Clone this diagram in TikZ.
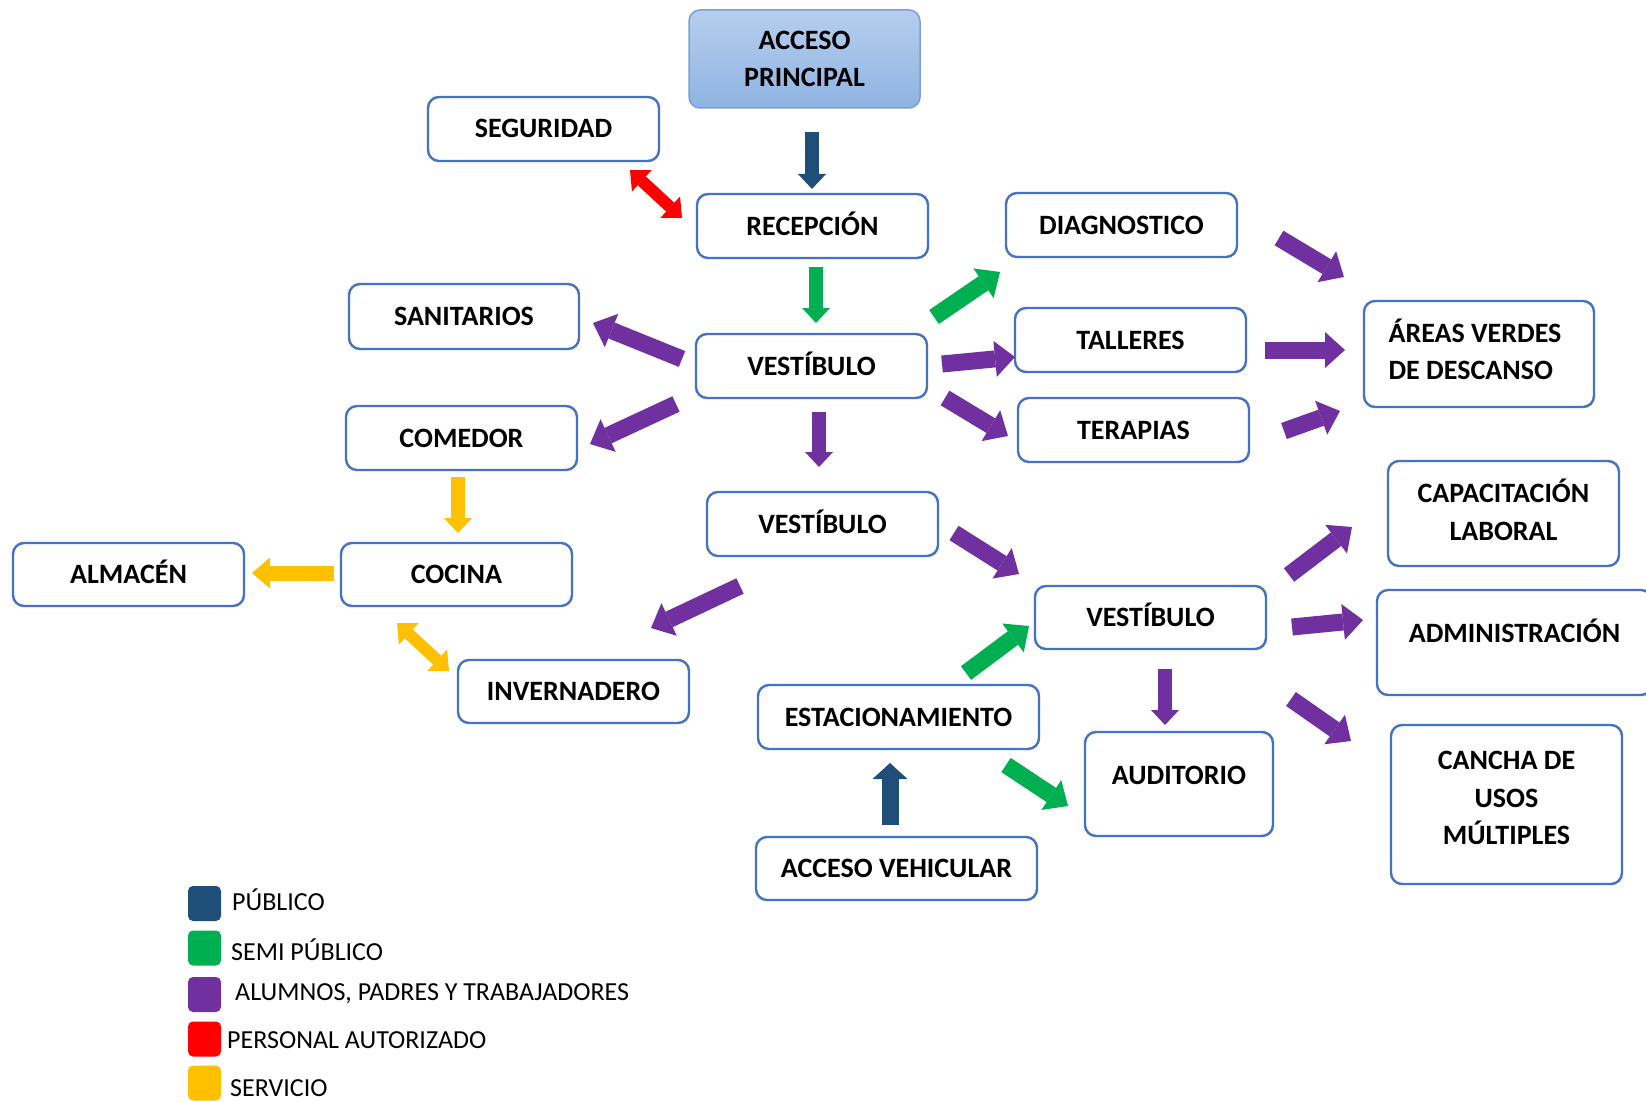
\documentclass[tikz,border=0pt]{standalone}
\usepackage{fontspec}
\setmainfont{Carlito}
\usetikzlibrary{arrows.meta,calc}
\definecolor{bord}{RGB}{68,114,196}
\definecolor{pub}{RGB}{31,78,121}
\definecolor{semi}{RGB}{0,176,80}
\definecolor{alum}{RGB}{112,48,160}
\definecolor{pers}{RGB}{255,0,0}
\definecolor{serv}{RGB}{255,192,0}
\definecolor{accT}{RGB}{182,206,237}
\definecolor{accB}{RGB}{143,180,227}
\definecolor{accD}{RGB}{120,160,215}
\begin{document}
\begin{tikzpicture}[x=1pt,y=-1pt,
  box/.style={draw=bord, line width=2.4pt, rounded corners=11pt, fill=white, inner sep=0pt,
    font=\fontsize{28}{37.5}\selectfont\bfseries, text height=18pt, text depth=0pt},
  mbox/.style={draw=bord, line width=2.4pt, rounded corners=11pt, fill=white, inner sep=0pt,
    font=\fontsize{28}{37.5}\selectfont\bfseries, align=center},
  big/.style={line width=17pt, -{Triangle[width=36pt,length=20pt,line width=0pt]}},
  thin/.style={line width=13.5pt, -{Triangle[width=28pt,length=15pt,line width=0pt]}},
  dbl/.style={line width=12pt, {Triangle[width=29pt,length=16pt,line width=0pt]}-{Triangle[width=29pt,length=16pt,line width=0pt]}},
  legsq/.style={rounded corners=5pt, minimum width=33pt, minimum height=35pt, inner sep=0pt},
  legtx/.style={anchor=base west, inner sep=0pt, font=\fontsize{26}{30}\selectfont}
]
\path[use as bounding box, fill=white] (0,0) rectangle (1646,1102);

% boxes
\node[mbox, minimum width=231pt, minimum height=98pt, draw=accD, line width=1.5pt,
      top color=accT, bottom color=accB] (accp) at (804.5,59) {ACCESO\\PRINCIPAL};
\node[box, minimum width=231pt, minimum height=64pt] (seg) at (543.5,129) {SEGURIDAD};
\node[box, minimum width=231pt, minimum height=64pt] (rec) at (812.5,226) {RECEPCIÓN};
\node[box, minimum width=231pt, minimum height=64pt] (diag) at (1121.5,225) {DIAGNOSTICO};
\node[box, minimum width=230pt, minimum height=65pt] (san) at (464,316.5) {SANITARIOS};
\node[box, minimum width=231pt, minimum height=64pt] (vesta) at (811.5,366) {VESTÍBULO};
\node[box, minimum width=231pt, minimum height=64pt] (tall) at (1130.5,340) {TALLERES};
\node[mbox, align=left, text height=55.5pt, text depth=4pt,
      minimum width=230pt, minimum height=106pt] (areas) at (1479,354) {ÁREAS VERDES\hspace*{8pt}\\DE DESCANSO};
\node[box, minimum width=231pt, minimum height=64pt] (com) at (461.5,438) {COMEDOR};
\node[box, minimum width=231pt, minimum height=64pt] (ter) at (1133.5,430) {TERAPIAS};
\node[mbox, text height=55.5pt, text depth=2pt, minimum width=231pt, minimum height=105pt] (cap) at (1503.5,513.5) {CAPACITACIÓN\\LABORAL};
\node[box, minimum width=231pt, minimum height=64pt] (vestb) at (822.5,524) {VESTÍBULO};
\node[box, minimum width=231pt, minimum height=63pt] (alm) at (128.5,574.5) {ALMACÉN};
\node[box, minimum width=231pt, minimum height=63pt] (coc) at (456.5,574.5) {COCINA};
\node[box, minimum width=231pt, minimum height=63pt] (vestc) at (1150.5,617.5) {VESTÍBULO};
\node[box, minimum width=275pt, minimum height=105pt, text depth=18pt] (adm) at (1514.5,642.5) {ADMINISTRACIÓN};
\node[box, minimum width=231pt, minimum height=63pt] (inv) at (573.5,691.5) {INVERNADERO};
\node[box, minimum width=281pt, minimum height=64pt] (est) at (898.5,717) {ESTACIONAMIENTO};
\node[box, minimum width=188pt, minimum height=104pt, text depth=18pt] (aud) at (1179,784) {AUDITORIO};
\node[mbox, minimum width=231pt, minimum height=159pt, text depth=13pt] (can) at (1506.5,804.5) {CANCHA DE\\USOS\\MÚLTIPLES};
\node[box, minimum width=281pt, minimum height=63pt] (accv) at (896.5,868.5) {ACCESO VEHICULAR};

% arrow end points
\coordinate (p1t) at (812,132);  \coordinate (p1h) at (812,189);
\coordinate (r1t) at (630,170);  \coordinate (r1h) at (682,218);
\coordinate (g1t) at (816,267);  \coordinate (g1h) at (816,323);
\coordinate (g2t) at (934,317);  \coordinate (g2h) at (1000,272);
\coordinate (u1t) at (682,359);  \coordinate (u1h) at (593,323);
\coordinate (u2t) at (676,404);  \coordinate (u2h) at (590,444);
\coordinate (u3t) at (819,412);  \coordinate (u3h) at (819,467);
\coordinate (u4t) at (942,364);  \coordinate (u4h) at (1015,357);
\coordinate (u5t) at (945,398);  \coordinate (u5h) at (1008,436);
\coordinate (u6t) at (1279,238); \coordinate (u6h) at (1344,277);
\coordinate (u7t) at (1265,350); \coordinate (u7h) at (1345,350);
\coordinate (u8t) at (1284,431); \coordinate (u8h) at (1340,411);
\coordinate (s1t) at (458,477);  \coordinate (s1h) at (458,533);
\coordinate (s2t) at (334,573);  \coordinate (s2h) at (252,573);
\coordinate (s3t) at (397,623);  \coordinate (s3h) at (449,671);
\coordinate (u9t) at (740,586);  \coordinate (u9h) at (651,628);
\coordinate (u10t) at (954,533); \coordinate (u10h) at (1019,574);
\coordinate (g3t) at (966,673);  \coordinate (g3h) at (1029,626);
\coordinate (p2t) at (890,825);  \coordinate (p2h) at (890,763);
\coordinate (g4t) at (1006,765); \coordinate (g4h) at (1068,806);
\coordinate (u11t) at (1165,669); \coordinate (u11h) at (1165,725);
\coordinate (u12t) at (1289,575); \coordinate (u12h) at (1352,527);
\coordinate (u13t) at (1292,627); \coordinate (u13h) at (1363,620);
\coordinate (u14t) at (1291,699); \coordinate (u14h) at (1351,741);

% arrows
\draw[thin, pub] (p1t) -- (p1h);
\draw[dbl, pers] (r1t) -- (r1h);
\draw[thin, semi] (g1t) -- (g1h);
\draw[big, semi] (g2t) -- (g2h);
\draw[big, alum] (u1t) -- (u1h);
\draw[big, alum] (u2t) -- (u2h);
\draw[thin, alum] (u3t) -- (u3h);
\draw[big, alum] (u4t) -- (u4h);
\draw[big, alum] (u5t) -- (u5h);
\draw[big, alum] (u6t) -- (u6h);
\draw[big, alum] (u7t) -- (u7h);
\draw[big, alum] (u8t) -- (u8h);
\draw[thin, serv] (s1t) -- (s1h);
\draw[serv, line width=15pt, -{Triangle[width=31pt,length=18pt,line width=0pt]}] (s2t) -- (s2h);
\draw[dbl, serv] (s3t) -- (s3h);
\draw[big, alum] (u9t) -- (u9h);
\draw[big, alum] (u10t) -- (u10h);
\draw[big, semi] (g3t) -- (g3h);
\draw[pub, line width=17pt, -{Triangle[width=35pt,length=16pt,line width=0pt]}] (p2t) -- (p2h);
\draw[big, semi] (g4t) -- (g4h);
\draw[thin, alum] (u11t) -- (u11h);
\draw[big, alum] (u12t) -- (u12h);
\draw[big, alum] (u13t) -- (u13h);
\draw[big, alum] (u14t) -- (u14h);

% legend
\node[legsq, fill=pub]  (lg1) at (204.5,903.5) {};
\node[legsq, fill=semi] (lg2) at (204.5,948) {};
\node[legsq, fill=alum] (lg3) at (204.5,994.5) {};
\node[legsq, fill=pers] (lg4) at (204.5,1039) {};
\node[legsq, fill=serv] (lg5) at (204.5,1083) {};
\node[legtx] (lt1) at (232,910) {PÚBLICO};
\node[legtx] (lt2) at (231,960) {SEMI PÚBLICO};
\node[legtx] (lt3) at (235,1000) {ALUMNOS, PADRES Y TRABAJADORES};
\node[legtx] (lt4) at (227,1048) {PERSONAL AUTORIZADO};
\node[legtx] (lt5) at (230,1096) {SERVICIO};
\end{tikzpicture}
\end{document}
